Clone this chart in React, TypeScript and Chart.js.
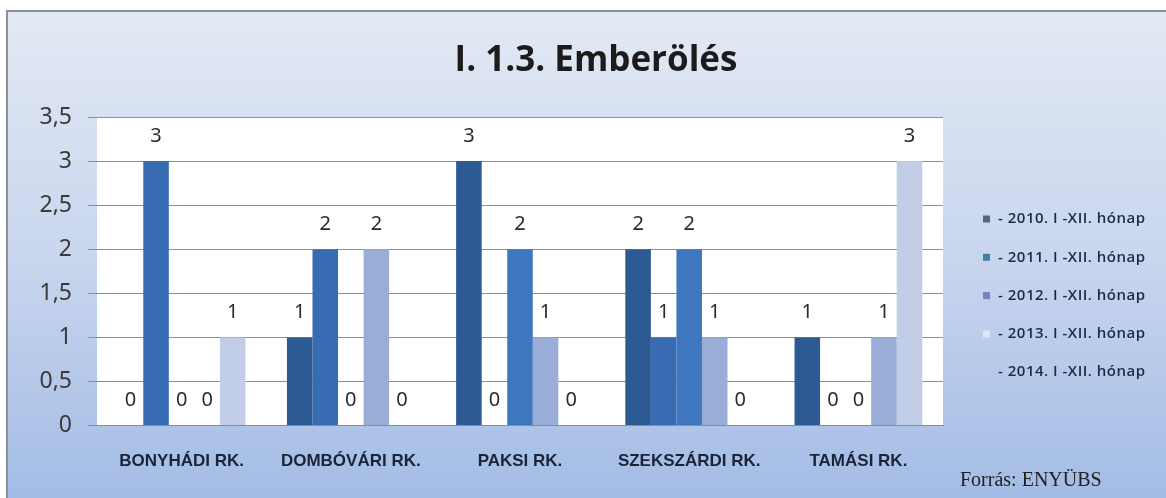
import React, { useEffect, useRef } from "react";
import { Chart, registerables } from "chart.js";

Chart.register(...registerables);

const TITLE = "I. 1.3. Emberölés";
const categories = ["BONYHÁDI RK.", "DOMBÓVÁRI RK.", "PAKSI RK.", "SZEKSZÁRDI RK.", "TAMÁSI RK."];
const seriesLabels = [
  "- 2010. I -XII. hónap",
  "- 2011. I -XII. hónap",
  "- 2012. I -XII. hónap",
  "- 2013. I -XII. hónap",
  "- 2014. I -XII. hónap",
];
const values2010 = [0, 1, 3, 2, 1];
const values2011 = [3, 2, 0, 1, 0];
const values2012 = [0, 0, 2, 2, 0];
const values2013 = [0, 2, 1, 1, 1];
const values2014 = [1, 0, 0, 0, 3];
const yTicks = [0, 0.5, 1, 1.5, 2, 2.5, 3, 3.5];
const SOURCE = "Forrás: ENYÜBS";

const barColors = ["#2d5a93", "#386cb2", "#3f77bf", "#9aadd6", "#c2cee8"];
const legendMarkerColors = ["#5a6580", "#3f7fa8", "#7b80c0", "#dfe5f1", "rgba(0,0,0,0)"];

const decorPlugin = {
  id: "decor",
  beforeDraw(chart: any) {
    const { ctx, chartArea, width, height } = chart;
    ctx.save();
    ctx.fillStyle = "#ffffff";
    ctx.fillRect(0, 0, width, height);
    const g = ctx.createLinearGradient(0, 11, 0, height);
    g.addColorStop(0, "#e3e9f4");
    g.addColorStop(0.5, "#c9d6ee");
    g.addColorStop(1, "#a3bce5");
    ctx.fillStyle = g;
    ctx.fillRect(7, 11, width - 7, height - 11);
    ctx.strokeStyle = "#8a909a";
    ctx.lineWidth = 2;
    ctx.beginPath();
    ctx.moveTo(7, height);
    ctx.lineTo(7, 11);
    ctx.lineTo(width, 11);
    ctx.stroke();
    ctx.fillStyle = "#ffffff";
    ctx.fillRect(chartArea.left, chartArea.top, chartArea.right - chartArea.left, chartArea.bottom - chartArea.top);
    ctx.restore();
  },
  afterDatasetsDraw(chart: any) {
    const { ctx } = chart;
    ctx.save();
    ctx.font = "20px 'Noto Sans', sans-serif";
    ctx.fillStyle = "#2b2b2b";
    ctx.textAlign = "center";
    ctx.textBaseline = "middle";
    chart.data.datasets.forEach((ds: any, i: number) => {
      const meta = chart.getDatasetMeta(i);
      meta.data.forEach((bar: any, j: number) => {
        ctx.fillText(String(ds.data[j]), bar.x, bar.y - 25);
      });
    });
    ctx.restore();
  },
  afterDraw(chart: any) {
    const { ctx } = chart;
    ctx.save();
    ctx.textBaseline = "middle";
    ctx.textAlign = "center";
    ctx.font = "bold 35px 'Open Sans', sans-serif";
    ctx.fillStyle = "#1b1b1b";
    ctx.fillText(TITLE, 596, 61);
    ctx.textAlign = "left";
    ctx.font = "600 15px 'Open Sans', sans-serif";
    try {
      (ctx as any).letterSpacing = "0.5px";
    } catch (e) {}
    seriesLabels.forEach((lbl, i) => {
      const y = 219 + i * 38.3;
      ctx.fillStyle = legendMarkerColors[i];
      ctx.fillRect(983, y - 3.5, 7, 7);
      ctx.fillStyle = "#1e2a45";
      ctx.fillText(lbl, 998, y);
    });
    try {
      (ctx as any).letterSpacing = "0px";
    } catch (e) {}
    ctx.font = "20px 'Liberation Serif', serif";
    ctx.fillStyle = "#222222";
    ctx.fillText(SOURCE, 960, 481);
    ctx.restore();
  },
};

export default function App() {
  const ref = useRef<HTMLCanvasElement | null>(null);
  useEffect(() => {
    if (!ref.current) return;
    const seriesValues = [values2010, values2011, values2012, values2013, values2014];
    const chart = new Chart(ref.current, {
      type: "bar",
      data: {
        labels: categories,
        datasets: seriesValues.map((v, i) => ({
          label: seriesLabels[i],
          data: v,
          backgroundColor: barColors[i],
          borderWidth: 0,
          categoryPercentage: 0.755,
          barPercentage: 1,
        })),
      },
      options: {
        animation: false,
        responsive: false,
        layout: { padding: { left: 7, right: 223, top: 117, bottom: 0 } },
        plugins: {
          legend: { display: false },
          tooltip: { enabled: false },
          title: { display: false },
        },
        scales: {
          x: {
            grid: { display: false, drawTicks: false },
            border: { display: true, color: "#8c8c8c" },
            ticks: {
              padding: 26,
              autoSkip: false,
              maxRotation: 0,
              minRotation: 0,
              color: "#1a2438",
              font: { family: "'Liberation Sans', sans-serif", size: 17, weight: "bold" },
            },
          },
          y: {
            min: 0,
            max: 3.5,
            afterBuildTicks: (s: any) => {
              s.ticks = yTicks.map((v) => ({ value: v }));
            },
            afterFit: (s: any) => {
              s.width = 90;
            },
            grid: { color: "#8f8f8f", lineWidth: 1, drawTicks: true, tickLength: 9 },
            border: { display: false },
            ticks: {
              padding: 16,
              color: "#3a3a3a",
              font: { family: "'Noto Sans', sans-serif", size: 23 },
              callback: (v: any) => String(v).replace(".", ","),
            },
          },
        },
      },
      plugins: [decorPlugin],
    });
    return () => chart.destroy();
  }, []);
  return (
    <div style={{ position: "absolute", left: 0, top: 0, width: 1166, height: 498 }}>
      <canvas ref={ref} width={1166} height={498} style={{ width: 1166, height: 498 }} />
    </div>
  );
}
